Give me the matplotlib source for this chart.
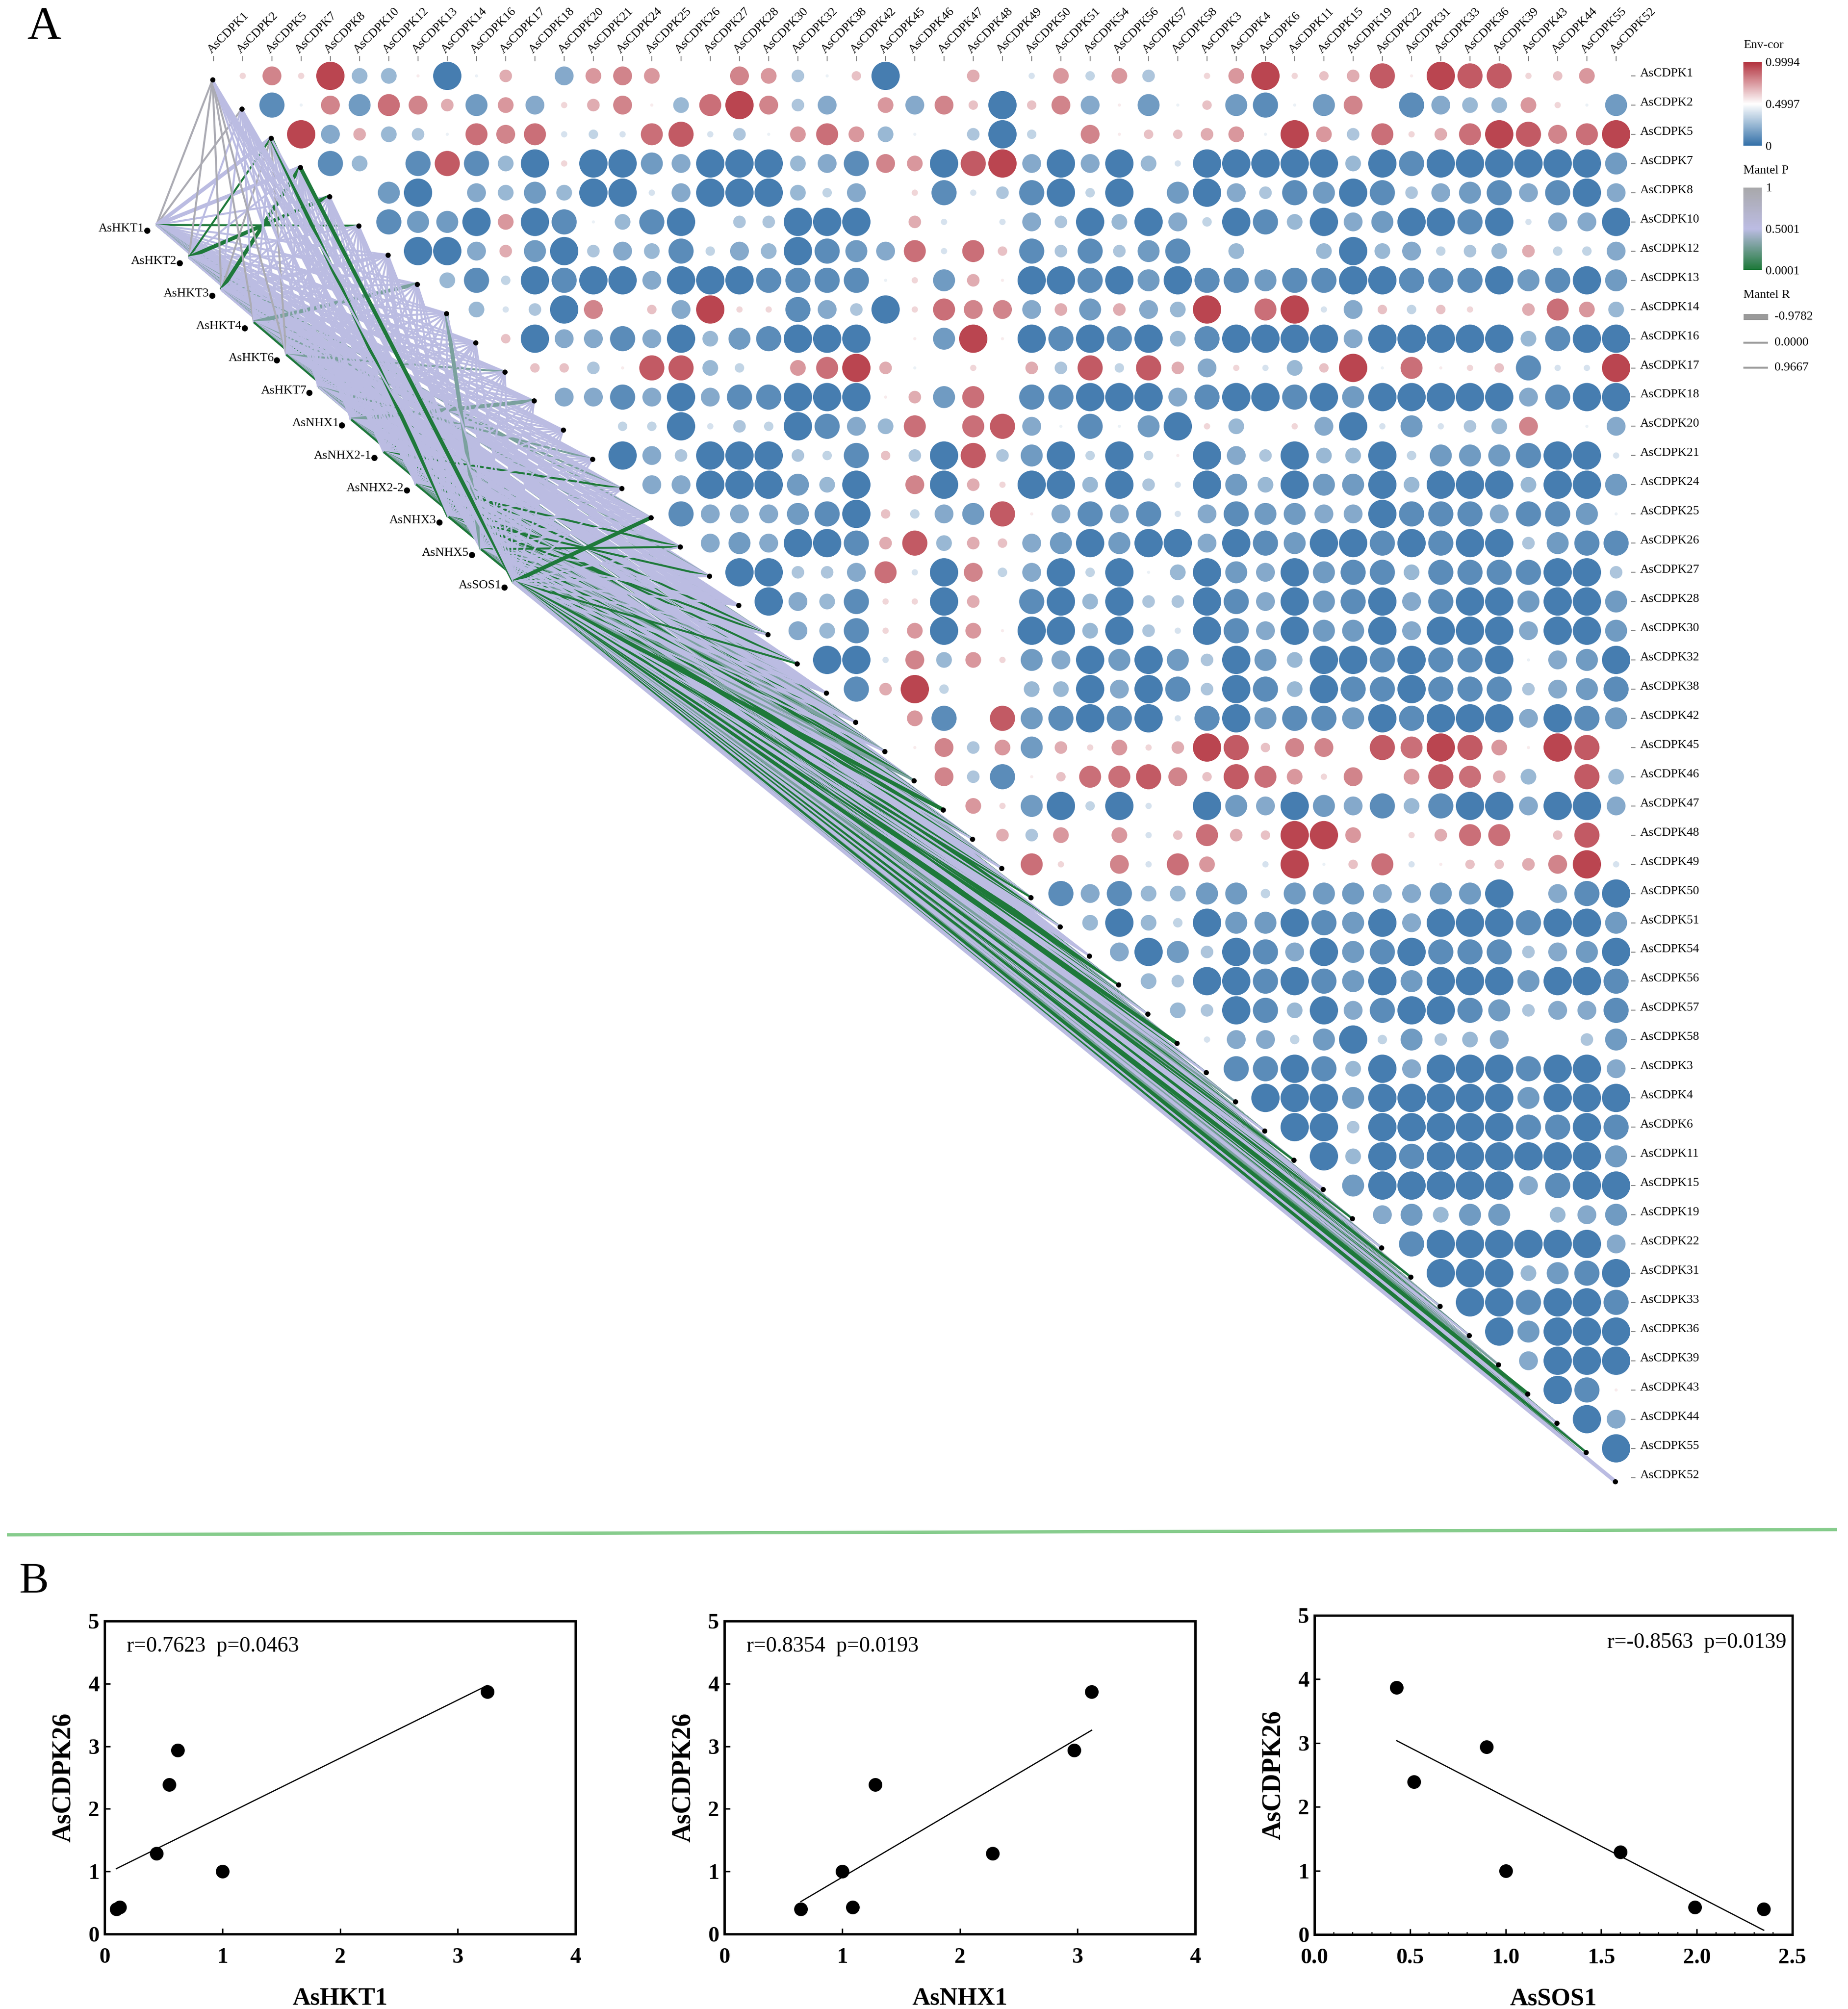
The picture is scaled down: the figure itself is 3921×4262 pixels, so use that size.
import numpy as np
import matplotlib
matplotlib.use("Agg")
import matplotlib.pyplot as plt
from matplotlib.colors import LinearSegmentedColormap, Normalize
from matplotlib.collections import LineCollection
from matplotlib.colorbar import ColorbarBase
from matplotlib.ticker import MultipleLocator

plt.rcParams['font.family'] = ['Liberation Serif', 'DejaVu Serif']

# ---------------- data ----------------
genes = ["AsCDPK1", "AsCDPK2", "AsCDPK5", "AsCDPK7", "AsCDPK8", "AsCDPK10", "AsCDPK12",
         "AsCDPK13", "AsCDPK14", "AsCDPK16", "AsCDPK17", "AsCDPK18", "AsCDPK20", "AsCDPK21",
         "AsCDPK24", "AsCDPK25", "AsCDPK26", "AsCDPK27", "AsCDPK28", "AsCDPK30", "AsCDPK32",
         "AsCDPK38", "AsCDPK42", "AsCDPK45", "AsCDPK46", "AsCDPK47", "AsCDPK48", "AsCDPK49",
         "AsCDPK50", "AsCDPK51", "AsCDPK54", "AsCDPK56", "AsCDPK57", "AsCDPK58", "AsCDPK3",
         "AsCDPK4", "AsCDPK6", "AsCDPK11", "AsCDPK15", "AsCDPK19", "AsCDPK22", "AsCDPK31",
         "AsCDPK33", "AsCDPK36", "AsCDPK39", "AsCDPK43", "AsCDPK44", "AsCDPK55", "AsCDPK52"]

sources = ["AsHKT1", "AsHKT2", "AsHKT3", "AsHKT4", "AsHKT6", "AsHKT7", "AsNHX1",
           "AsNHX2-1", "AsNHX2-2", "AsNHX3", "AsNHX5", "AsSOS1"]

# correlation (x10) of row gene i with column genes i+1 ... end (upper triangle)
cor_tenths = [
    [2, 6, 2, 9, -5, -5, 1, -9, -1, 4, 0, -6, 5, 6, 5, 0, 0, 6, 5, -4, -1, 3, -9, 0, 0, 4, 0, -2, 5, -3, 5, -4, 0, 2, 5, 9, 2, 3, 4, 8, 1, 9, 8, 8, 2, 3, 5, 0],
    [-8, -1, 6, -7, 7, 6, 4, -7, 5, -6, 2, 4, 6, 1, -5, 7, 9, 6, -4, -6, 0, 5, -6, 6, 3, -9, 3, 6, -6, 1, -7, -1, 3, -7, -8, -1, -7, 6, 0, -8, -6, -5, -5, 5, 2, -1, -7],
    [9, -6, 4, -5, -4, -1, 7, 6, 7, -2, -3, -2, 7, 8, -2, -4, -1, 5, 7, 5, -5, -1, 0, -4, -9, -3, 0, 6, 1, 3, 3, 4, 5, -1, 9, 5, -4, 7, 2, 4, 7, 9, 8, 6, 7, 9],
    [-8, -5, 0, -8, 8, -8, -5, -9, 2, -9, -9, -7, -6, -9, -9, -9, -5, -6, -8, 6, 5, -9, 8, 9, -6, -9, -6, -9, -5, -2, -9, -9, -9, -9, -9, -5, -9, -8, -9, -9, -9, -9, -9, -9, -7],
    [0, -7, -9, 0, -6, -5, -7, -5, -9, -9, -2, -6, -9, -9, -9, -5, -3, -6, 0, 2, -8, -2, -4, -8, -9, -3, -9, 0, -7, -9, -6, -4, -8, -7, -9, -8, -4, -6, -7, -8, -6, -8, -9, -6],
    [-8, -7, -7, -9, 5, -9, -8, -1, -5, -8, -9, 0, -4, -4, -9, -9, -9, 0, 4, -2, 0, -2, -6, -4, -9, -5, -9, -6, -3, -9, -8, -5, -9, -6, -7, -9, -9, -8, -9, -2, -6, -6, -9],
    [-9, -9, -6, 4, -7, -9, -4, -6, -5, -8, -3, -6, -5, -9, -8, -7, -6, 7, -2, 7, 3, -8, -4, -8, -4, -7, -8, 0, -5, 0, 0, -5, -9, -5, -6, -3, -4, -5, 4, -3, -3, -6],
    [-5, -8, -3, -9, -8, -9, -9, -6, -9, -9, -9, -8, -8, -8, -8, -1, 2, -7, 4, 1, -9, -9, -8, -9, -7, -9, -8, -8, -7, -8, -8, -9, -9, -8, -8, -8, -9, -7, -8, -9, -7],
    [-5, -2, -4, -9, 6, 0, 3, -6, 9, 2, 2, -8, -6, -4, -9, 2, 7, 6, 6, -6, 4, -7, 4, -6, -5, 9, 0, 7, 9, -2, -6, 3, -3, 3, 2, 0, 4, 7, 5, -5],
    [3, -9, -6, -6, -8, -6, -9, -5, -7, -8, -9, -9, -9, 0, 1, -7, 9, 1, -9, -8, -9, -8, -9, -5, -8, -9, -9, -9, -9, -6, -9, -9, -9, -9, -9, -5, -8, -9, -9],
    [3, 3, -4, 1, 8, 8, -5, -3, 0, 5, 7, 9, 4, -1, 0, 2, 0, 4, -4, 8, -3, 8, 4, -6, 2, -2, -5, 3, 9, -1, 7, 1, 2, 3, -8, -2, -2, 9],
    [-6, -6, -8, -6, -9, -6, -8, -8, -9, -9, -9, 1, 4, -7, 7, 0, -8, -8, -9, -9, -9, -6, -8, -9, -9, -8, -9, -7, -9, -9, -9, -9, -9, -6, -8, -9, -9],
    [0, -3, -3, -9, -2, -4, -3, -9, -8, -6, -5, 7, 0, 7, 8, -6, -1, -8, -1, -7, -9, 2, -5, 0, 2, -6, -9, -2, -7, -2, -4, -5, 6, 0, -1, -6],
    [-9, -6, -4, -9, -9, -9, -4, -3, -8, 3, -4, -9, 8, -4, -7, -9, -3, -9, -3, 1, -9, -6, -4, -9, -5, -5, -9, -3, -7, -7, -7, -8, -9, -9, -2],
    [-6, -6, -9, -9, -9, -7, -5, -9, 0, 6, -9, 4, 2, -9, -9, -5, -9, -4, -2, -9, -7, -5, -9, -7, -7, -9, -5, -9, -9, -9, -5, -9, -9, -7],
    [-8, -6, -6, -6, -7, -8, -9, 3, -3, -6, -7, 8, 1, -6, -8, -6, -8, -2, -6, -8, -7, -7, -6, -6, -9, -8, -8, -8, -6, -8, -8, -7, -1],
    [-6, -7, -6, -9, -9, -8, 4, 8, -5, 4, 3, -6, -7, -9, -7, -9, -9, -6, -9, -8, -7, -9, -9, -8, -9, -8, -9, -9, -4, -7, -8, -8],
    [-9, -9, -4, -4, -6, 7, -2, -9, 6, -3, -6, -9, -3, -9, -1, -5, -9, -7, -6, -9, -7, -8, -8, -5, -8, -8, -8, -8, -9, -9, -4],
    [-9, -6, -5, -8, 2, 2, -9, 4, 0, -8, -9, -5, -9, -4, -4, -9, -8, -6, -9, -7, -8, -9, -6, -8, -9, -9, -7, -9, -9, -7],
    [-6, -5, -8, 2, 5, -9, 5, 1, -9, -9, -5, -9, -4, -2, -9, -8, -6, -9, -7, -7, -9, -6, -9, -9, -9, -6, -9, -9, -7],
    [-9, -9, -2, 6, -5, 5, 2, -7, -6, -9, -7, -9, -7, -4, -9, -7, -5, -9, -9, -8, -9, -8, -8, -9, -1, -6, -7, -9],
    [-8, 4, 9, -3, 0, 0, -5, -5, -9, -6, -9, -8, -4, -9, -8, -5, -9, -8, -8, -9, -8, -8, -8, -4, -6, -7, -8],
    [0, 5, -8, 0, 8, -7, -8, -9, -8, -9, -2, -8, -9, -7, -8, -8, -7, -9, -8, -9, -9, -9, -6, -9, -8, -7],
    [1, 6, -4, 5, -7, 4, 2, 5, 2, 4, 9, 8, 3, 6, 6, 0, 8, 7, 9, 8, 5, 1, 9, 8, 0],
    [6, -4, -8, 1, 3, 7, 7, 8, 6, 3, 8, 7, 5, 2, 6, 0, 5, 8, 7, 4, -5, 0, 8, -5],
    [5, 2, -7, -9, -3, -9, -2, 0, -9, -7, -6, -9, -7, -6, -8, -5, -8, -9, -9, -6, -9, -9, -6],
    [4, -4, 5, 0, 5, -2, 3, 7, 4, 3, 9, 9, 5, 0, 2, 4, 7, 7, 0, 3, 8, 0],
    [7, 2, 0, 6, -2, 7, 5, 0, -2, 9, -1, 3, 7, -2, 1, 3, 3, 4, 6, 9, -2],
    [-8, -6, -8, -5, -5, -7, -7, -3, -7, -7, -7, -6, -6, -7, -7, -9, 0, -6, -8, -9],
    [-5, -9, -5, -3, -9, -7, -7, -9, -8, -7, -9, -6, -9, -9, -9, -8, -9, -9, -7],
    [-6, -9, -7, -4, -9, -8, -6, -9, -7, -8, -9, -8, -8, -8, -4, -6, -7, -9],
    [-5, -4, -9, -9, -8, -9, -8, -7, -9, -7, -9, -9, -9, -7, -9, -9, -8],
    [-5, -4, -9, -8, -5, -9, -6, -8, -9, -9, -8, -7, -4, -6, -6, -8],
    [-2, -6, -6, -3, -7, -9, -3, -7, -4, -5, -6, 0, 0, -4, -7],
    [-8, -8, -9, -8, -5, -9, -6, -9, -9, -9, -8, -9, -9, -6],
    [-9, -9, -9, -7, -9, -9, -9, -9, -9, -7, -9, -9, -9],
    [-9, -9, -4, -9, -9, -9, -9, -9, -8, -8, -9, -8],
    [-9, -5, -9, -8, -9, -9, -9, -9, -9, -9, -7],
    [-7, -9, -9, -9, -9, -9, -6, -8, -9, -9],
    [-6, -7, -5, -7, -7, 0, -5, -6, -7],
    [-8, -9, -9, -9, -9, -9, -9, -6],
    [-9, -9, -9, -5, -7, -8, -9],
    [-9, -9, -8, -9, -9, -8],
    [-9, -7, -9, -9, -9],
    [-6, -9, -9, -9],
    [-9, -8, 1],
    [-9, -6],
    [-9],
]

# Mantel test class of every source -> gene link (one char per gene, in gene order)
# y: P~0.9 (grey), l: P~0.5 (lavender), t: P~0.3, g: P<0.05 (green); upper case = thick (negative R)
mantel_code = [
    ["yyLLlgllll", "lllllllllt", "lltlllllgl", "llltllglll", "llglltgll"],
    ["ylglGlllll", "llllltllll", "lllgllltll", "llltllglll", "lgllltgll"],
    ["ylyGllLlll", "llllllltll", "lllllgllll", "lgllltllgl", "llltgllll"],
    ["yllllllTll", "lllltlllll", "llglllltll", "lllllglllg", "lltllgllg"],
    ["ylylllllll", "tlllllllll", "lltlllglll", "llglltllgl", "llglltllg"],
    ["lllLllllll", "llltllllll", "llllglltll", "lllglllgll", "glltllggl"],
    ["llllLlllll", "lTllllllll", "lllglltllg", "llglllgltl", "lglgltglg"],
    ["lllllllllL", "llllgllllg", "lltllglllg", "lglgltgllg", "gllglgtlg"],
    ["llllllLlll", "llllllglll", "glltgllglg", "lgllgltglg", "lgglgtllg"],
    ["llGlllllll", "lllllllglg", "llltglglgl", "lgglgltggl", "gglglglgg"],
    ["llllllllTl", "llllllglll", "lllltlgllg", "lglgllltgl", "lggtltlgg"],
    ["lllGllllll", "lllllGllll", "gllltGllgl", "lglGltlgLg", "lglltGlgL"],
]
code_p = {'y': 0.92, 'l': 0.50, 't': 0.30, 'g': 0.01}
R_thin, R_thick = 0.30, -0.45

legend_R = [-0.9782, 0.0, 0.9667]

cdpk26 = [3.87, 2.94, 2.39, 1.29, 1.00, 0.43, 0.40]
hkt1 = [3.25, 0.62, 0.55, 0.44, 1.00, 0.13, 0.10]
nhx1 = [3.12, 2.97, 1.28, 2.28, 1.00, 1.09, 0.65]
sos1 = [0.43, 0.90, 0.52, 1.60, 1.00, 1.99, 2.35]

# ---------------- figure ----------------
W, H = 3921, 4262
DPI = 100
PT = 72.0 / DPI
fig = plt.figure(figsize=(W / DPI, H / DPI), dpi=DPI, facecolor='white')
ax = fig.add_axes([0, 0, 1, 1])
ax.set_xlim(0, W)
ax.set_ylim(H, 0)
ax.axis('off')

n = len(genes)
X0, DX, Y0, DY = 453.0, 62.0, 161.0, 61.95
gx = X0 + DX * np.arange(n)
gy = Y0 + DY * np.arange(n)
node_x = gx - 2
node_y = gy + 8

ns = len(sources)
sdx = 311.8 + 68.9 * np.arange(ns)
sdy = 489.2 + 68.8 * np.arange(ns)
ox = sdx + 20
oy = sdy - 12

env_cmap = LinearSegmentedColormap.from_list('env', ['#3370a8', '#ffffff', '#b3323e'])
env_norm = Normalize(0, 0.9994)
p_cmap = LinearSegmentedColormap.from_list('mp', ['#1b7837', '#bcbce3', '#a8a8aa'])
p_norm = Normalize(0.0001, 1)


def r_width(R):
    return np.interp(R, [-0.9782, 0.0, 0.9667], [13.0, 4.2, 4.2])


segs, cols, wids = [], [], []
for k, groups in enumerate(mantel_code):
    code = (''.join(groups) + 'l' * n)[:n]
    for j, ch in enumerate(code):
        P = code_p[ch.lower()]
        R = R_thick if ch.isupper() else R_thin
        segs.append([(ox[k], oy[k]), (node_x[j], node_y[j])])
        cols.append(p_cmap(p_norm(P)))
        wids.append(r_width(R) * PT)
lc = LineCollection(segs, colors=cols, linewidths=wids, zorder=1)
ax.add_collection(lc)

# correlation circles
xs, ys, ss, cs = [], [], [], []
for i, row in enumerate(cor_tenths):
    for k, v in enumerate(row):
        if v == 0:
            continue
        j = i + 1 + k
        r = v / 10.0
        d = abs(v) / 9.0 * 60.0
        xs.append(gx[j]); ys.append(gy[i]); ss.append((d * PT) ** 2); cs.append((r + 1) / 2)
ax.scatter(xs, ys, s=ss, c=cs, cmap=env_cmap, norm=env_norm, linewidths=0, zorder=3)

# nodes
ax.scatter(node_x, node_y, s=(11 * PT) ** 2, c='black', linewidths=0, zorder=4)
ax.scatter(sdx, sdy, s=(13 * PT) ** 2, c='black', linewidths=0, zorder=4)
for k, name in enumerate(sources):
    ax.text(sdx[k] - 6, sdy[k] + 2, name, ha='right', va='baseline', fontsize=19, zorder=5)

# column / row labels
ax.vlines(gx, 119, 130, colors='#888888', lw=1.5)
for j, g in enumerate(genes):
    ax.text(gx[j] - 4, 114, g, rotation=45, ha='left', va='baseline',
            rotation_mode='anchor', fontsize=19)
ax.hlines(gy, 3461, 3470, colors='#888888', lw=1.5)
for i, g in enumerate(genes):
    ax.text(3480, gy[i] + 1, g, ha='left', va='baseline', fontsize=19)

# panel letters
ax.text(58, 83, 'A', fontsize=72, va='baseline', ha='left')
ax.text(40, 3378, 'B', fontsize=68, va='baseline', ha='left')

# separator
ax.plot([15, 3898], [3256, 3245], color='#86cc8c', lw=7 * PT, solid_capstyle='butt')

# legends
LX = 3699
ax.text(LX, 96, 'Env-cor', fontsize=19, va='center', ha='left')
cax1 = fig.add_axes([LX / W, 1 - 309 / H, 39 / W, 177 / H])
cb1 = ColorbarBase(cax1, cmap=env_cmap, norm=env_norm, ticks=[0, 0.4997, 0.9994])
cb1.set_ticklabels(['0', '0.4997', '0.9994'])
cb1.outline.set_visible(False)
cax1.tick_params(length=0, labelsize=19, pad=6)

ax.text(LX, 362, 'Mantel P', fontsize=19, va='center', ha='left')
cax2 = fig.add_axes([LX / W, 1 - 573 / H, 39 / W, 175 / H])
cb2 = ColorbarBase(cax2, cmap=p_cmap, norm=p_norm, ticks=[0.0001, 0.5001, 1])
cb2.set_ticklabels(['0.0001', '0.5001', '1'])
cb2.outline.set_visible(False)
cax2.tick_params(length=0, labelsize=19, pad=6)

ax.text(LX, 626, 'Mantel R', fontsize=19, va='center', ha='left')
for Rv, yy in zip(legend_R, [672, 727, 780]):
    ax.plot([LX, LX + 52], [yy, yy], lw=r_width(Rv) * PT, color='#9a9a9a', solid_capstyle='butt')
    ax.text(LX + 66, yy, f'{Rv:.4f}', fontsize=19, va='center', ha='left')

# ---------------- panel B scatter plots ----------------
panels = [
    (hkt1, 'AsHKT1', (222, 1221, 3439, 4103), (0, 4), [0, 1, 2, 3, 4], ['0', '1', '2', '3', '4'],
     'r=0.7623  p=0.0463', 'left', False),
    (nhx1, 'AsNHX1', (1537, 2536, 3439, 4103), (0, 4), [0, 1, 2, 3, 4], ['0', '1', '2', '3', '4'],
     'r=0.8354  p=0.0193', 'left', False),
    (sos1, 'AsSOS1', (2789, 3803, 3427, 4104), (0, 2.5), [0, 0.5, 1.0, 1.5, 2.0, 2.5],
     ['0.0', '0.5', '1.0', '1.5', '2.0', '2.5'], 'r=-0.8563  p=0.0139', 'right', True),
]
for xv, xlab, (l, r, t, b), xlim, xt, xtl, txt, side, minor in panels:
    a = fig.add_axes([l / W, 1 - b / H, (r - l) / W, (b - t) / H])
    a.set_xlim(*xlim)
    a.set_ylim(0, 5)
    a.scatter(xv, cdpk26, s=(29 * PT) ** 2, c='black', zorder=3, linewidths=0)
    slope, icpt = np.polyfit(xv, cdpk26, 1)
    xx = np.array([min(xv), max(xv)])
    a.plot(xx, slope * xx + icpt, color='black', lw=2.6 * PT, zorder=2)
    a.tick_params(direction='in', length=12 * PT, width=3.2 * PT, labelsize=34)
    a.tick_params(axis='x', pad=21)
    a.tick_params(axis='y', pad=8)
    a.set_xticks(xt)
    a.set_xticklabels(xtl, fontweight='bold', fontsize=34)
    a.set_yticks([0, 1, 2, 3, 4, 5])
    a.set_yticklabels(['0', '1', '2', '3', '4', '5'], fontweight='bold', fontsize=34)
    for sp in a.spines.values():
        sp.set_linewidth(5 * PT)
    if minor:
        a.xaxis.set_minor_locator(MultipleLocator(0.1))
        a.tick_params(axis='x', which='minor', direction='in', length=5 * PT, width=2.5 * PT)
    a.set_xlabel(xlab, fontsize=38, fontweight='bold', labelpad=30)
    a.set_ylabel('AsCDPK26', fontsize=40, fontweight='bold', labelpad=19)
    if side == 'left':
        a.text(0.047, 0.919, txt, transform=a.transAxes, fontsize=33, ha='left', va='center')
    else:
        a.text(0.988, 0.915, txt, transform=a.transAxes, fontsize=33, ha='right', va='center')

fig.savefig('out.png', dpi=DPI, facecolor='white')
